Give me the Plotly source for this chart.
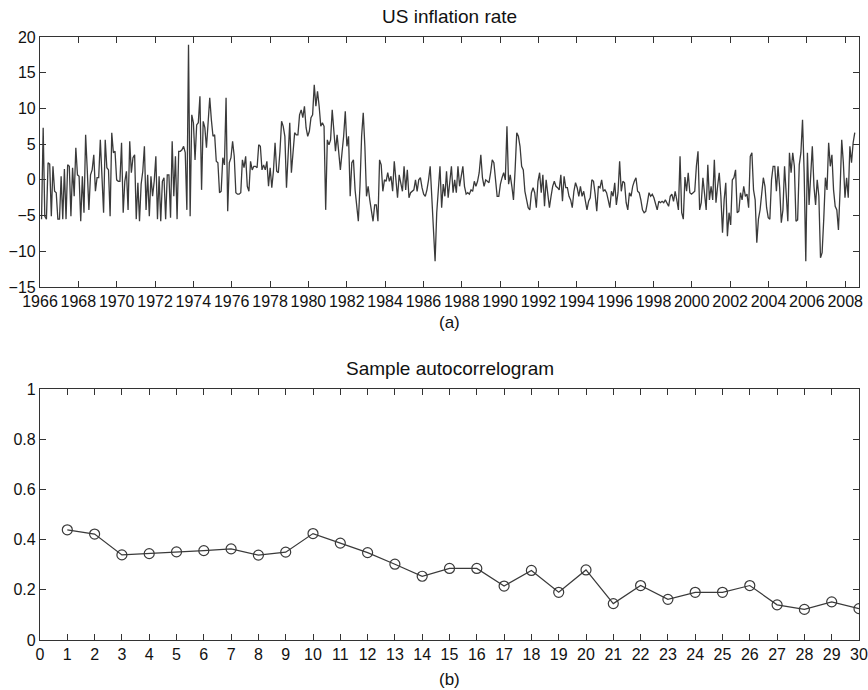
import numpy as np
import plotly.graph_objects as go

# ---------------- data ----------------
# US monthly inflation rate (annualised, %), in three stretches
infl_1966_1979 = [
    -5.5, 7.3, -5.1, -5.5, 2.4, 2.2, -5.1, 1.9, -1.6, -1.8, -5.5, -5.5, 0.5, -5.5, 1.5, -5.5,
    2.1, 1.9, -5.1, 1.7, -2.3, 4.5, 0.7, 0.5, -5.8, 0.5, -4.6, 6.3, 1.4, -4.2, 0.7, 1.4, 3.5,
    -1.6, 0.3, 0.3, 5.6, 0.7, -4.6, 5.6, 1.7, 1.4, -5.1, 6.6, 3.8, 4.0, 0.0, -0.2, -0.2, 5.2,
    -4.6, -0.2, 1.2, -4.2, 5.4, 1.0, 3.1, 3.5, -5.5, -0.4, -5.8, -0.6, 1.2, 4.7, -4.2, 0.7,
    -5.1, 0.5, -2.3, -0.2, 3.3, -5.5, 0.5, -5.8, -0.2, 0.3, -5.5, 0.7, 0.7, -5.3, 5.4, -2.3,
    3.3, -5.5, 4.0, 4.0, 4.2, 4.7, 3.8, -4.2, 18.9, -5.1, 9.1, 8.0, 2.8, 7.7, 8.0, 11.7, -1.4,
    8.2, 7.3, 4.5, 7.5, 11.5, 8.4, 6.1, 6.3, 2.6, 2.4, -1.8, -1.6, 3.1, 2.1, 11.5, -4.4, 2.4,
    3.1, 5.4, 3.3, -1.8, -2.0, -2.0, -1.8, 2.8, 1.7, 3.3, -0.9, -1.6, 2.6, 1.4, 1.9, 1.9, 1.7,
    4.9, 4.7, 1.4, 2.1, 1.4, 2.6, -0.9, 1.7, -1.1, 1.2, 5.2, 1.2, 1.0, 4.0, 8.2, 7.5, 6.1,
    -1.1, 3.1, 8.0, 1.0, 4.5, 6.6, 6.3, 6.3, 9.1, 9.8, 8.7, 10.3,
]
infl_1979_1994 = [
    7.3, 6.1, 6.8, 8.7, 9.1, 13.3, 10.3, 12.4, 10.3, 7.5, 8.0, 7.5, -4.2, 5.6, 4.9, 5.6, 9.8,
    6.8, 4.0, 6.3, 4.0, 1.4, 3.8, 6.1, 9.6, 4.7, 6.1, -2.3, 2.4, 2.8, -1.4, -4.2, -5.8, -0.9,
    6.1, 9.4, 4.7, -2.3, -0.9, -2.8, -4.2, -5.8, -3.5, -3.5, -5.8, 2.8, 2.1, -1.6, 0.0, -0.2,
    1.0, -0.2, 0.5, -1.6, 2.6, 0.5, -2.5, 0.7, -0.4, -1.6, 1.9, -1.4, 1.4, -2.5, -1.8, -1.6,
    -1.4, 0.0, -1.6, 0.0, 0.3, -1.1, -2.0, -2.3, -1.4, 0.0, 1.9, -2.5, -6.5, -11.4, -4.6, -0.9,
    1.9, -3.9, -0.6, -2.3, 1.2, -2.5, -0.2, 1.9, -1.8, 0.0, -1.8, 1.9, -0.9, 0.5, 1.9, -0.9,
    -2.0, -1.8, -2.0, -1.4, -1.6, -0.2, -0.9, -0.2, 1.0, 3.5, 0.3, -0.9, 0.0, -0.2, -0.4, 1.0,
    2.8, 2.4, 0.0, -2.3, -2.3, -0.6, 0.3, 1.0, 0.0, 7.5, -0.6, 0.7, -0.9, -2.8, 1.4, 6.6, 6.1,
    4.7, 1.9, 1.4, -1.6, -2.8, -3.9, -4.2, -1.8, -1.1, -1.8, -3.9, -0.2, 1.0, -1.8, 0.7, -3.7,
    0.0, -1.6, -3.9, -2.3, -0.9, -0.2, -0.9, -1.1, -1.4, 0.7, -3.0, 0.5, -1.1, -1.1, -2.3,
    -2.8, -3.9, -1.6, -0.4, -1.1, -2.3, -0.9, -2.3, -1.6,
]
infl_1994_2008 = [
    -2.8, -4.2, -3.0, -2.5, 0.0, -0.2, -2.0, -4.4, -0.9, -1.1, 0.0, -1.6, -1.4, -1.8, -2.8,
    -3.9, -1.6, -2.3, -0.4, -3.5, -1.8, 2.6, -1.6, -0.2, -0.4, -3.2, -4.2, -1.8, -2.3, -0.9,
    -0.2, 0.3, -1.6, -1.8, -2.8, -4.2, -4.6, -4.4, -3.2, -1.8, -2.3, -2.0, -2.5, -3.2, -4.2,
    -3.0, -3.2, -3.0, -3.2, -2.8, -3.2, -3.7, -2.3, -2.0, -3.0, -1.6, -2.8, -4.2, 3.3, -4.6,
    -5.5, 0.4, -1.6, 1.0, -1.8, -2.0, -1.8, -1.6, 1.9, 4.0, -4.2, -3.2, 0.3, -1.8, -4.2, 2.1,
    -2.8, -0.9, -2.8, 2.8, -3.2, -0.9, 1.0, -2.3, -7.4, -2.8, -0.4, -7.9, -4.6, -6.3, 0.0, 0.3,
    1.4, -4.6, -4.4, -1.8, -2.8, -0.9, -2.3, -2.0, -3.9, 3.3, 3.8, -1.4, -2.8, -8.8, -5.5,
    -4.2, -1.8, 0.3, -0.9, -3.9, -5.3, -5.5, 0.0, 1.9, 1.9, -1.6, 1.9, -1.1, -6.0, -4.2, 1.9,
    -2.3, -5.8, 3.8, 1.0, 3.8, 1.9, -5.8, -5.6, 2.1, 3.8, 8.4, 1.0, -11.4, 3.8, -3.5, 0.0, 4.7,
    -0.9, -3.5, 0.0, -2.3, -10.9, -10.2, -5.5, 0.3, -1.4, 5.2, 1.9, 3.5, -1.4, -3.7, -4.2,
    -7.0, -1.4, 5.6, 2.4, -2.5, 0.3, -2.5, 4.7, 2.4, 5.2, 6.6,
]
obs_start = 1966.08   # first observation (fractional year)
obs_end = 2008.50     # last observation (fractional year)
year_ticks = list(range(1966, 2009, 2))

# Sample autocorrelogram
acf_lags = list(range(1, 31))
acf_values = [0.439, 0.422, 0.339, 0.344, 0.351, 0.356, 0.363, 0.338, 0.350, 0.424,
              0.386, 0.348, 0.302, 0.254, 0.285, 0.285, 0.215, 0.277, 0.190, 0.279,
              0.145, 0.217, 0.162, 0.190, 0.190, 0.217, 0.140, 0.122, 0.152, 0.125]

# ---------------- figure ----------------
infl = infl_1966_1979 + infl_1979_1994 + infl_1994_2008
t = np.linspace(obs_start, obs_end, len(infl))

W, H = 868, 690
ML, MR, MT, MB = 40, 9, 37, 50
PH = H - MT - MB
LINE = "#3a3a3a"
AX = "#333333"
FONT = "Liberation Sans, Arial, Helvetica, sans-serif"
TXT = "#111111"

fig = go.Figure()
fig.add_trace(go.Scatter(x=t, y=infl, mode="lines", line=dict(color=LINE, width=1.3),
                         xaxis="x", yaxis="y", showlegend=False, hoverinfo="skip"))
fig.add_trace(go.Scatter(x=acf_lags, y=acf_values, mode="lines+markers",
                         line=dict(color=LINE, width=1.2),
                         marker=dict(symbol="circle-open", size=10, color=LINE,
                                     line=dict(width=1.2, color=LINE)),
                         xaxis="x2", yaxis="y2", showlegend=False, hoverinfo="skip"))

common = dict(showline=True, linecolor=AX, linewidth=1.2, mirror="ticks", ticks="inside",
              ticklen=6, tickwidth=1, tickcolor=AX, showgrid=False, zeroline=False,
              automargin=False, tickfont=dict(family=FONT, size=16, color=TXT))

top_dom = [(PH - 250) / PH, 1.0]
bot_dom = [0.0, (PH - (389 - MT)) / PH]


def plot_y(ypage):
    # page pixel (from top) -> paper fraction relative to plot area
    return (H - MB - ypage) / PH


fig.update_layout(
    width=W, height=H, autosize=False, margin=dict(l=ML, r=MR, t=MT, b=MB, pad=0),
    paper_bgcolor="white", plot_bgcolor="white",
    font=dict(family=FONT, color=TXT),
    xaxis=dict(domain=[0, 1], anchor="y", range=[1966, 2008.72], tickvals=year_ticks,
               tickformat="d", **common),
    yaxis=dict(domain=top_dom, anchor="x", range=[-15, 20], dtick=5, **common),
    xaxis2=dict(domain=[0, 1], anchor="y2", range=[0, 30], dtick=1, tick0=0, **common),
    yaxis2=dict(domain=bot_dom, anchor="x2", range=[0, 1], dtick=0.2, **common),
    annotations=[
        dict(text="US inflation rate", x=0.5, y=plot_y(17), xref="paper", yref="paper",
             showarrow=False, font=dict(size=19, family=FONT, color=TXT),
             xanchor="center", yanchor="middle"),
        dict(text="(a)", x=0.5, y=plot_y(322), xref="paper", yref="paper",
             showarrow=False, font=dict(size=17, family=FONT, color=TXT),
             xanchor="center", yanchor="middle"),
        dict(text="Sample autocorrelogram", x=0.5, y=plot_y(369), xref="paper",
             yref="paper", showarrow=False, font=dict(size=19, family=FONT, color=TXT),
             xanchor="center", yanchor="middle"),
        dict(text="(b)", x=0.5, y=plot_y(679), xref="paper", yref="paper",
             showarrow=False, font=dict(size=17, family=FONT, color=TXT),
             xanchor="center", yanchor="middle"),
    ],
)

fig.write_html("out.html", config={"displayModeBar": False},
               post_script="document.body.style.margin='0';document.body.style.overflow='hidden';")
